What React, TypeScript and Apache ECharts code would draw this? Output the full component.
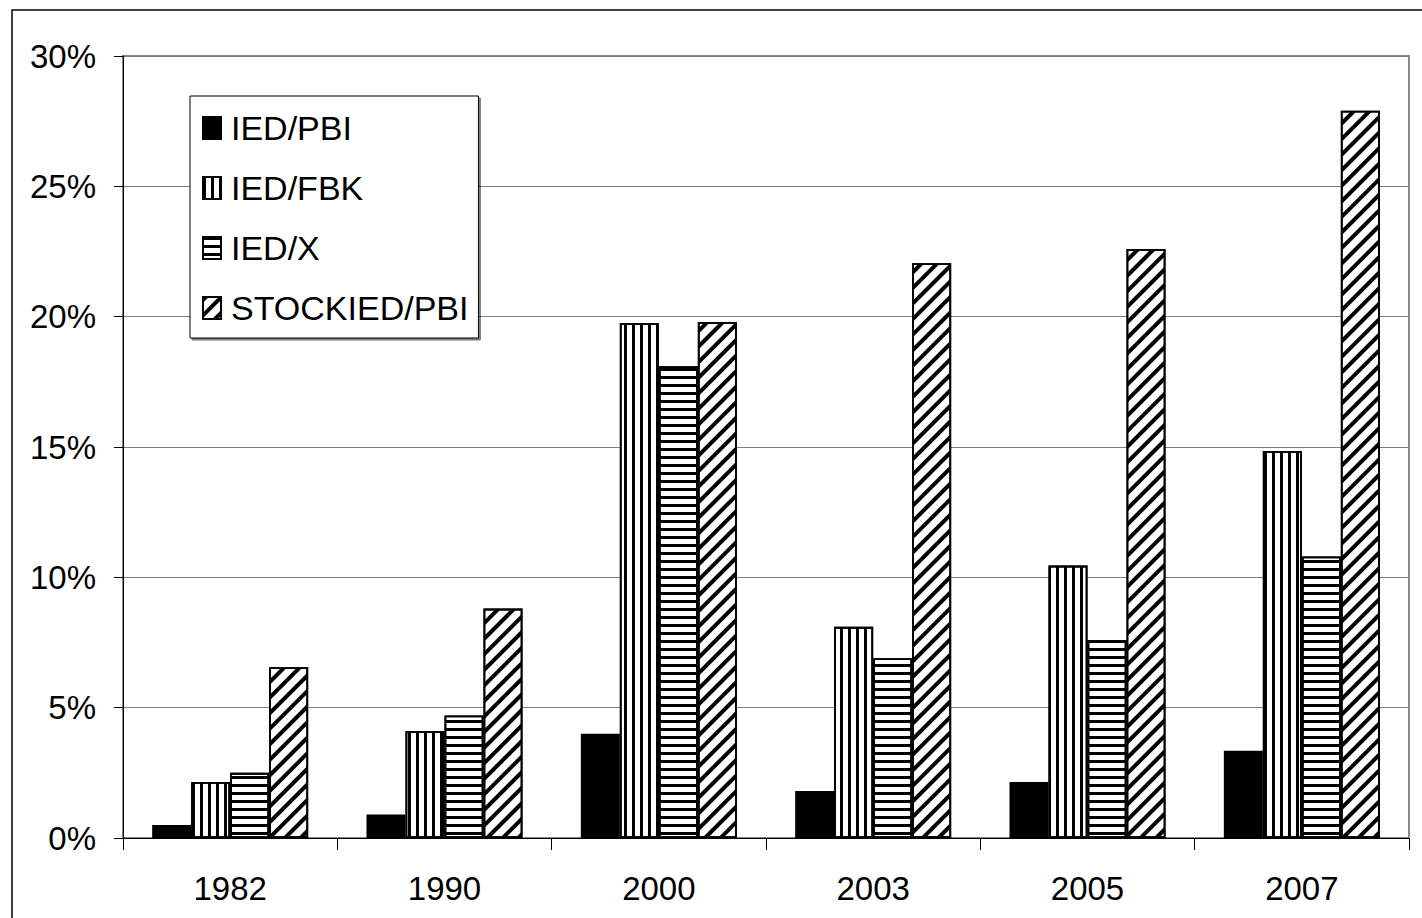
import React, { useEffect, useRef } from "react";
import * as echarts from "echarts";

const years = ["1982", "1990", "2000", "2003", "2005", "2007"];
const seriesNames = ["IED/PBI", "IED/FBK", "IED/X", "STOCKIED/PBI"];
const iedPbi = [0.5, 0.9, 4.0, 1.8, 2.15, 3.35];
const iedFbk = [2.15, 4.1, 19.75, 8.1, 10.45, 14.85];
const iedX = [2.5, 4.7, 18.1, 6.9, 7.6, 10.8];
const stockIedPbi = [6.55, 8.8, 19.8, 22.05, 22.6, 27.9];
const yTicks = [0, 5, 10, 15, 20, 25, 30];

const FONT = "'Liberation Sans', Arial, sans-serif";

export default function App() {
  const ref = useRef<HTMLDivElement>(null);
  useEffect(() => {
    if (!ref.current) return;
    const chart = echarts.init(ref.current, null, { renderer: "svg" });
    const base = {
      type: "bar",
      barWidth: 39,
      barGap: "0%",
    };
    const decals: any[] = [
      null,
      {
        symbol: "rect",
        symbolSize: 1,
        symbolKeepAspect: false,
        color: "#000",
        dashArrayX: [2.5, 4.5],
        dashArrayY: [1, 0],
      },
      {
        symbol: "rect",
        symbolSize: 1,
        symbolKeepAspect: false,
        color: "#000",
        dashArrayX: [1, 0],
        dashArrayY: [2.5, 4.5],
      },
      {
        symbol: "rect",
        symbolSize: 1,
        symbolKeepAspect: false,
        color: "#000",
        dashArrayX: [1, 0],
        dashArrayY: [4, 6.5],
        rotation: -Math.PI / 4,
      },
    ];
    const data = [iedPbi, iedFbk, iedX, stockIedPbi];
    chart.setOption({
      animation: false,
      backgroundColor: "#fff",
      textStyle: { fontFamily: FONT },
      graphic: [
        {
          type: "rect",
          shape: { x: 12, y: 10, width: 1430, height: 930 },
          style: { fill: "none", stroke: "#000", lineWidth: 1.5 },
          z: -10,
          silent: true,
        },
      ],
      grid: {
        left: 123,
        top: 56,
        right: 13,
        bottom: 80,
        show: true,
        borderColor: "#888",
        borderWidth: 2,
      },
      legend: {
        orient: "vertical",
        left: 190,
        top: 96,
        padding: [15, 10, 13, 12],
        itemGap: 26,
        itemWidth: 18,
        itemHeight: 22,
        icon: "rect",
        borderColor: "#000",
        borderWidth: 1,
        backgroundColor: "#fff",
        data: seriesNames,
        textStyle: { fontSize: 34, color: "#000", fontFamily: FONT, padding: [0, 0, 0, 5] },
        shadowColor: "rgba(0,0,0,0.5)",
        shadowOffsetX: 2,
        shadowOffsetY: 2,
      },
      xAxis: {
        type: "category",
        data: years,
        axisLine: { lineStyle: { color: "#000", width: 1 } },
        axisTick: { show: true, length: 12, lineStyle: { color: "#000" } },
        axisLabel: { fontSize: 33, color: "#000", margin: 34, fontFamily: FONT },
      },
      yAxis: {
        type: "value",
        min: 0,
        max: 30,
        interval: 5,
        axisLine: { show: true, lineStyle: { color: "#000", width: 1 } },
        axisTick: { show: true, length: 9, lineStyle: { color: "#000" } },
        splitLine: { show: true, lineStyle: { color: "#808080", width: 1 } },
        axisLabel: {
          fontSize: 33,
          color: "#000",
          margin: 27,
          fontFamily: FONT,
          formatter: (v: number) => (yTicks.includes(v) ? `${v}%` : ""),
        },
      },
      series: seriesNames.map((name, i) => ({
        ...base,
        name,
        data: data[i],
        itemStyle: {
          color: i === 0 ? "#000" : "#fff",
          borderColor: "#000",
          borderWidth: 1.8,
          decal: decals[i] || undefined,
        },
      })),
    });
    return () => chart.dispose();
  }, []);
  return (
    <div
      ref={ref}
      style={{ position: "absolute", left: 0, top: 0, width: 1422, height: 918 }}
    />
  );
}
